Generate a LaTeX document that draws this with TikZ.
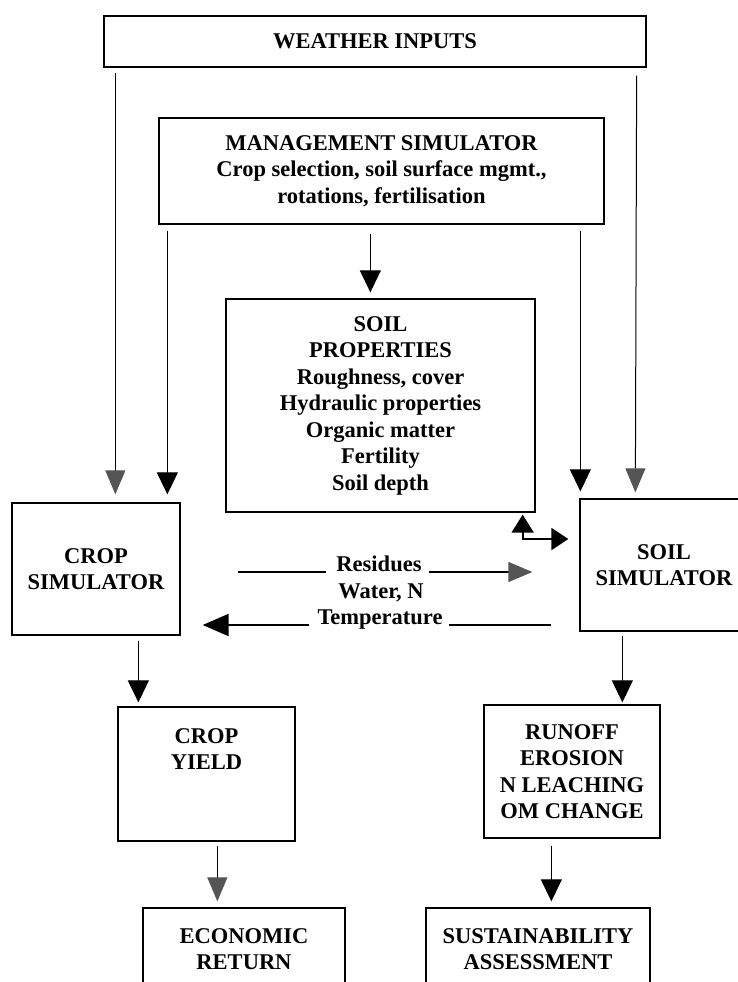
\documentclass[tikz,border=0pt]{standalone}
\usepackage{fontspec}
\setmainfont{Liberation Serif}
\definecolor{headgray}{RGB}{85,85,85}
\usetikzlibrary{arrows.meta,positioning,calc}

\begin{document}
\begin{tikzpicture}[
  x=1pt, y=-1pt,
  box/.style={rectangle, draw=black, line width=1.3pt, inner sep=2pt, align=center, font=\fontsize{22.5}{26.5}\selectfont\bfseries},
  lbl/.style={inner sep=0pt, align=center, font=\fontsize{22.5}{26.5}\selectfont\bfseries},
  flow/.style={-{Triangle[length=22pt,width=21pt]}, line width=1pt},
  gflow/.style={-{Triangle[length=24pt,width=20pt,color=headgray]}, line width=1pt},
  wire/.style={line width=1.3pt},
  heavy/.style={line width=2pt}
]
  \clip (0,0) rectangle (738,982);

  % Top row
  \node[box, minimum width=542pt, minimum height=51pt] (weather) at (375,41.5) {WEATHER INPUTS};
  \node[box, minimum width=445pt, minimum height=106pt] (mgmt) at (381.5,171) {MANAGEMENT SIMULATOR\\Crop selection, soil surface mgmt.,\\rotations, fertilisation};
  \node[box, minimum width=309pt, minimum height=213pt] (props) at (380.5,405.5) {SOIL\\PROPERTIES\\Roughness, cover\\Hydraulic properties\\Organic matter\\Fertility\\Soil depth};

  % Simulators
  \node[box, minimum width=168pt, minimum height=132pt] (crop) at (96,569) {CROP\\SIMULATOR};
  \node[box, minimum width=168pt, minimum height=132pt] (soil) at (664,565) {SOIL\\SIMULATOR};

  % Outputs
  \node[box, minimum width=177pt, minimum height=134pt] (yield) at (206.5,774) {};
  \node[lbl, anchor=north] (yieldtxt) at ([yshift=-22pt]yield.north) {CROP\\YIELD};
  \node[box, minimum width=176pt, minimum height=133pt] (runoff) at (572,771.5) {RUNOFF\\EROSION\\N LEACHING\\OM CHANGE};
  \node[box, minimum width=202pt, minimum height=82pt] (econ) at (244,949) {ECONOMIC\\RETURN};
  \node[box, minimum width=224pt, minimum height=82pt] (sust) at (538,949) {SUSTAINABILITY\\ASSESSMENT};

  % Exchange labels
  \node[lbl, anchor=base] (res) at (379,571) {Residues};
  \node[lbl, anchor=base] (wat) at (381,598) {Water, N};
  \node[lbl, anchor=base] (temp) at (380,624) {Temperature};

  % Weather and management
  \draw[gflow] ([shift={(12,5)}]weather.south west) -- ([shift={(104,-8)}]crop.north west);
  \draw[gflow] ([shift={(-10,8)}]weather.south east) -- ([shift={(56,-6)}]soil.north west);
  \draw[flow] ([shift={(9,6)}]mgmt.south west) -- ([shift={(156,-8)}]crop.north west);
  \draw[flow] ([shift={(212,9)}]mgmt.south west) -- ([shift={(145,-6)}]props.north west);
  \draw[flow] ([shift={(422,6)}]mgmt.south west) -- ([shift={(1,-7)}]soil.north west);
  \draw[heavy, {Triangle[length=18pt,width=22pt]}-{Triangle[length=17pt,width=22pt]}] ([shift={(-13,2)}]props.south east) |- ([shift={(-11,-26)}]soil.west);

  % Exchanges
  \draw[wire] ([shift={(57,3)}]crop.east) -- ++(88,0);
  \draw[gflow, line width=1.3pt] ([shift={(248,3)}]crop.east) -- ([shift={(-47,7)}]soil.west);
  \draw[wire] ([shift={(-28,60)}]soil.west) -- ++(-102,0);
  \draw[heavy, -{Triangle[length=26pt,width=22pt]}] ([shift={(-270,60)}]soil.west) -- ([shift={(22,56)}]crop.east);

  % Down to outputs
  \draw[flow] ([shift={(127,5)}]crop.south west) -- ([shift={(21,-4)}]yield.north west);
  \draw[flow] ([shift={(43,4)}]soil.south west) -- ([shift={(139,-2)}]runoff.north west);
  \draw[gflow] ([shift={(100,4)}]yield.south west) -- ([shift={(75,-6)}]econ.north west);
  \draw[flow] ([shift={(68,7)}]runoff.south west) -- ([shift={(126,-6)}]sust.north west);
\end{tikzpicture}
\end{document}
